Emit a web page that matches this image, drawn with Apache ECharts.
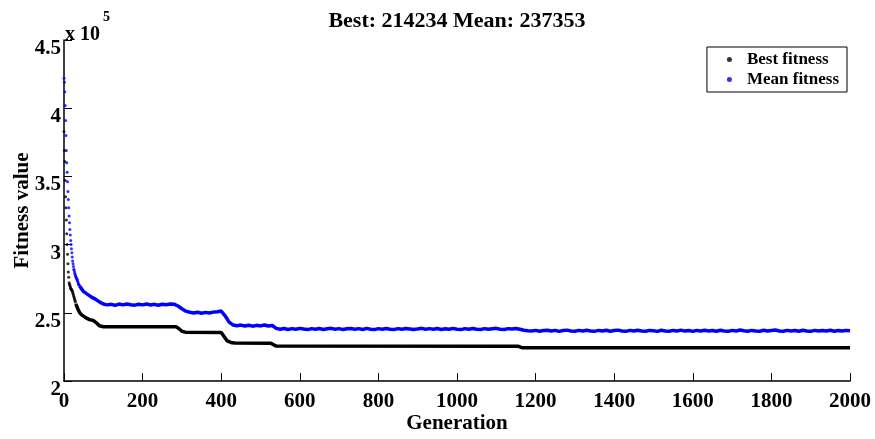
<!DOCTYPE html>
<html>
<head>
<meta charset="utf-8">
<script src="https://cdn.jsdelivr.net/npm/echarts@6/dist/echarts.min.js"></script>
<style>html,body{margin:0;padding:0;background:#fff}#c{width:875px;height:439px}</style>
</head>
<body>
<div id="c"></div>
<script>
// ---- data (fitness values in units of 10^5) ----
const titleText = 'Best: 214234 Mean: 237353';
const xTicks = [0, 200, 400, 600, 800, 1000, 1200, 1400, 1600, 1800, 2000];
const yTicks = [2, 2.5, 3, 3.5, 4, 4.5];

// Generations 0..29, best fitness (one point per generation)
const bestEarly = [3.83, 3.69, 3.61, 3.47, 3.35, 3.27, 3.18, 3.08, 3.00, 2.93,
                   2.86, 2.80, 2.76, 2.72, 2.71, 2.70, 2.69, 2.68, 2.675, 2.67,
                   2.665, 2.66, 2.65, 2.64, 2.63, 2.62, 2.61, 2.60, 2.59, 2.58];
// Best fitness from generation 30 on (change points of the step curve)
const bestGens = [30, 35, 40, 45, 50, 55, 60, 65, 70, 75, 80, 85, 90, 95, 100, 110,
                  285, 292, 300, 308, 400, 405, 410, 415, 420, 428, 435, 525, 532, 540,
                  1155, 1165, 2000];
const bestVals = [2.565, 2.53, 2.50, 2.485, 2.475, 2.465, 2.455, 2.45, 2.447, 2.443, 2.435, 2.42, 2.405, 2.40, 2.398, 2.397,
                  2.397, 2.385, 2.365, 2.358, 2.356, 2.345, 2.315, 2.295, 2.285, 2.28, 2.278, 2.277, 2.268, 2.256,
                  2.255, 2.244, 2.244];

// Generations 0..39, mean fitness (one point per generation)
const meanEarly = [4.22, 4.19, 4.12, 4.02, 3.91, 3.80, 3.69, 3.60, 3.53, 3.46,
                   3.39, 3.33, 3.27, 3.21, 3.16, 3.11, 3.07, 3.03, 3.00, 2.97,
                   2.94, 2.91, 2.88, 2.86, 2.84, 2.82, 2.81, 2.795, 2.785, 2.775,
                   2.765, 2.76, 2.75, 2.745, 2.74, 2.73, 2.72, 2.71, 2.705, 2.70];
// Mean fitness sampled every 10 generations from generation 40 to 2000
const meanStartGen = 40, meanStepGen = 10;
const meanLate = [
  2.695, 2.655, 2.635, 2.615, 2.600, 2.580, 2.565, 2.558, 2.562, 2.555, // 40-130
  2.564, 2.558, 2.565, 2.559, 2.556, 2.563, 2.558, 2.565, 2.557, 2.562, // 140-230
  2.555, 2.563, 2.559, 2.565, 2.563, 2.550, 2.530, 2.512, 2.504, 2.498, // 240-330
  2.504, 2.497, 2.503, 2.499, 2.505, 2.508, 2.513, 2.478, 2.432, 2.411, // 340-430
  2.405, 2.410, 2.403, 2.409, 2.402, 2.408, 2.404, 2.411, 2.403, 2.407, // 440-530
  2.386, 2.380, 2.385, 2.378, 2.384, 2.379, 2.386, 2.381, 2.377, 2.384, // 540-630
  2.380, 2.385, 2.378, 2.383, 2.386, 2.379, 2.384, 2.377, 2.383, 2.385, // 640-730
  2.379, 2.384, 2.378, 2.386, 2.380, 2.377, 2.384, 2.379, 2.385, 2.380, // 740-830
  2.378, 2.384, 2.379, 2.385, 2.381, 2.377, 2.382, 2.386, 2.379, 2.384, // 840-930
  2.380, 2.385, 2.378, 2.383, 2.379, 2.386, 2.380, 2.377, 2.384, 2.379, // 940-1030
  2.385, 2.380, 2.378, 2.384, 2.379, 2.383, 2.386, 2.380, 2.378, 2.384, // 1040-1130
  2.381, 2.385, 2.379, 2.372, 2.368, 2.366, 2.371, 2.365, 2.370, 2.372, // 1140-1230
  2.366, 2.371, 2.364, 2.370, 2.373, 2.367, 2.365, 2.371, 2.366, 2.372, // 1240-1330
  2.367, 2.364, 2.371, 2.366, 2.372, 2.365, 2.370, 2.373, 2.367, 2.364, // 1340-1430
  2.371, 2.366, 2.372, 2.367, 2.365, 2.371, 2.369, 2.364, 2.372, 2.367, // 1440-1530
  2.365, 2.371, 2.367, 2.373, 2.366, 2.370, 2.364, 2.371, 2.367, 2.372, // 1540-1630
  2.366, 2.370, 2.365, 2.372, 2.367, 2.364, 2.371, 2.366, 2.374, 2.369, // 1640-1730
  2.365, 2.371, 2.367, 2.364, 2.372, 2.366, 2.370, 2.374, 2.367, 2.365, // 1740-1830
  2.371, 2.366, 2.370, 2.365, 2.372, 2.367, 2.364, 2.371, 2.366, 2.370, // 1840-1930
  2.367, 2.372, 2.365, 2.370, 2.366, 2.371, 2.368                       // 1940-2000
];

// ---- build series data ----
const bestEarlyData = bestEarly.map((v, i) => [i, v]);
const bestLineData = bestGens.map((g, i) => [g, bestVals[i]]);
const meanEarlyData = meanEarly.map((v, i) => [i, v]);
const meanLineData = meanLate.map((v, i) => [meanStartGen + meanStepGen * i, v]);

const FONT = "'Liberation Serif', 'Times New Roman', serif";
const BLUE = '#0000ff';

const chart = echarts.init(document.getElementById('c'), null, {renderer: 'canvas'});
chart.setOption({
  animation: false,
  backgroundColor: '#fff',
  title: {
    text: titleText,
    left: 452, top: 5, textAlign: 'center',
    textStyle: {fontFamily: FONT, fontWeight: 'bold', fontSize: 22, color: '#000'}
  },
  legend: {
    data: ['Best fitness', 'Mean fitness'],
    orient: 'vertical',
    right: 28, top: 47,
    borderColor: '#000', borderWidth: 1,
    padding: [4, 8, 4, 20],
    itemGap: 3,
    itemWidth: 5, itemHeight: 5,
    icon: 'circle',
    textStyle: {fontFamily: FONT, fontWeight: 'bold', fontSize: 17, color: '#000', padding: [0, 0, 0, 10]}
  },
  grid: {left: 64, right: 25, top: 40, bottom: 58, containLabel: false, outerBoundsMode: 'none'},
  xAxis: {
    type: 'value', min: xTicks[0], max: xTicks[xTicks.length - 1], interval: 200,
    name: 'Generation', nameLocation: 'middle', nameGap: 32, nameMoveOverlap: false,
    nameTextStyle: {fontFamily: FONT, fontWeight: 'bold', fontSize: 21, color: '#000'},
    axisLine: {lineStyle: {color: '#000', width: 1.5}},
    axisTick: {inside: true, length: 8, lineStyle: {color: '#000', width: 1}},
    axisLabel: {fontFamily: FONT, fontWeight: 'bold', fontSize: 21, color: '#000', margin: 10,
      formatter: v => xTicks.includes(v) ? String(v) : ''},
    splitLine: {show: false}
  },
  yAxis: {
    type: 'value', min: yTicks[0], max: yTicks[yTicks.length - 1], interval: 0.5,
    name: 'Fitness value', nameLocation: 'middle', nameGap: 31, nameRotate: 90, nameMoveOverlap: false,
    nameTextStyle: {fontFamily: FONT, fontWeight: 'bold', fontSize: 21, color: '#000'},
    axisLine: {show: true, lineStyle: {color: '#000', width: 1.5}},
    axisTick: {show: true, inside: true, length: 8, lineStyle: {color: '#000', width: 1}},
    axisLabel: {fontFamily: FONT, fontWeight: 'bold', fontSize: 21, color: '#000', margin: 3,
      verticalAlign: 'top', lineHeight: 17},
    splitLine: {show: false}
  },
  graphic: [
    {type: 'text', left: 65, top: 25, style: {text: 'x 10', font: "bold 20px " + FONT, fill: '#000'}},
    {type: 'text', left: 103, top: 10, style: {text: '5', font: "bold 14px " + FONT, fill: '#000'}}
  ],
  series: [
    {name: 'Best fitness', type: 'scatter', data: bestEarlyData, symbol: 'circle', symbolSize: 3,
      itemStyle: {color: '#000'}, z: 3},
    {name: 'Best fitness', type: 'line', data: bestLineData, showSymbol: false, symbol: 'circle',
      lineStyle: {color: '#000', width: 3.5}, itemStyle: {color: '#000'}, z: 3},
    {name: 'Mean fitness', type: 'scatter', data: meanEarlyData, symbol: 'circle', symbolSize: 3,
      itemStyle: {color: BLUE}, z: 2},
    {name: 'Mean fitness', type: 'line', data: meanLineData, showSymbol: false, symbol: 'circle',
      lineStyle: {color: BLUE, width: 3.5}, itemStyle: {color: BLUE}, z: 2}
  ]
});
</script>
</body>
</html>
